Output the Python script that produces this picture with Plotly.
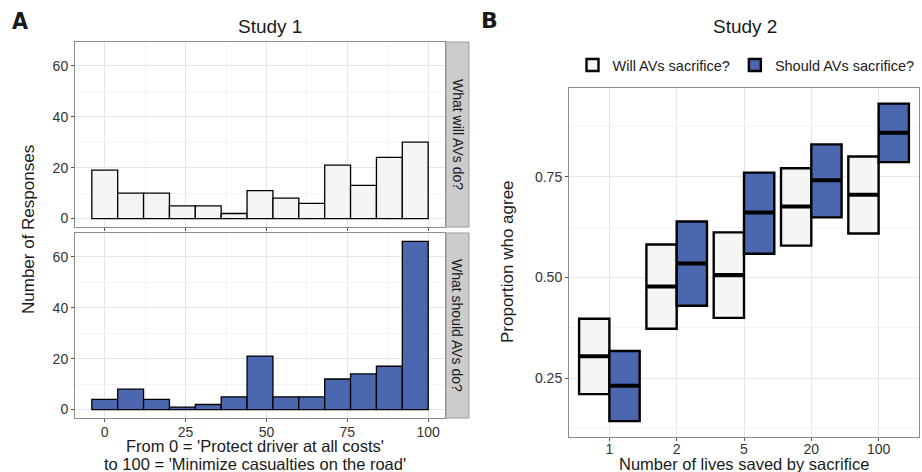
import plotly.graph_objects as go

# ---- Data ----
bin_centers = [0, 8, 16, 24, 32, 40, 48, 56, 64, 72, 80, 88, 96]
bin_width = 8
will_counts = [19, 10, 10, 5, 5, 2, 11, 8, 6, 21, 13, 24, 30]
should_counts = [4, 8, 4, 1, 2, 5, 21, 5, 5, 12, 14, 17, 66]

lives = ["1", "2", "5", "20", "100"]
will_lo = [0.211, 0.373, 0.400, 0.579, 0.609]
will_mid = [0.305, 0.478, 0.506, 0.676, 0.705]
will_hi = [0.398, 0.582, 0.612, 0.771, 0.800]
should_lo = [0.144, 0.430, 0.559, 0.649, 0.786]
should_mid = [0.232, 0.535, 0.661, 0.741, 0.859]
should_hi = [0.318, 0.639, 0.760, 0.830, 0.931]

LIGHT = "#f4f6f4"
BLUE = "#4b67b0"
FONT = "Liberation Sans, Arial, sans-serif"
W, H = 922, 472

def px(x):
    return x / W

def py(y):
    return (H - y) / H

fig = go.Figure()

fig.add_trace(go.Bar(x=bin_centers, y=will_counts, width=bin_width,
                     marker=dict(color=LIGHT, line=dict(color="black", width=1.3)),
                     xaxis="x", yaxis="y", showlegend=False))
fig.add_trace(go.Bar(x=bin_centers, y=should_counts, width=bin_width,
                     marker=dict(color=BLUE, line=dict(color="black", width=1.3)),
                     xaxis="x2", yaxis="y2", showlegend=False))

# Panel B crossbars
will_h = [h - l for h, l in zip(will_hi, will_lo)]
should_h = [h - l for h, l in zip(should_hi, should_lo)]
fig.add_trace(go.Bar(x=lives, y=will_h, base=will_lo, name="Will AVs sacrifice?",
                     offsetgroup="will", legendgroup="will",
                     marker=dict(color=LIGHT, line=dict(color="black", width=2.4)),
                     xaxis="x3", yaxis="y3"))
fig.add_trace(go.Bar(x=lives, y=should_h, base=should_lo, name="Should AVs sacrifice?",
                     offsetgroup="should", legendgroup="should",
                     marker=dict(color=BLUE, line=dict(color="black", width=2.4)),
                     xaxis="x3", yaxis="y3"))
med_t = 0.010
fig.add_trace(go.Bar(x=lives, y=[med_t] * len(lives), base=[m - med_t / 2 for m in will_mid],
                     offsetgroup="will", showlegend=False,
                     marker=dict(color="black", line=dict(width=0)),
                     xaxis="x3", yaxis="y3"))
fig.add_trace(go.Bar(x=lives, y=[med_t] * len(lives), base=[m - med_t / 2 for m in should_mid],
                     offsetgroup="should", showlegend=False,
                     marker=dict(color="black", line=dict(width=0)),
                     xaxis="x3", yaxis="y3"))

grid = "#e6e6e6"
minor_grid = "#f4f4f4"
border = "#8c8c8c"
tickfont = dict(family=FONT, size=14, color="#333333")

xA_dom = [px(75), px(445)]
common_x = dict(range=[-9.2, 105.2], tickvals=[0, 25, 50, 75, 100],
                showgrid=True, gridcolor=grid, gridwidth=1,
                minor=dict(tickvals=[12.5, 37.5, 62.5, 87.5], showgrid=True, gridcolor=minor_grid, ticks=""),
                zeroline=False, showline=True, linecolor=border, mirror=True, linewidth=1,
                ticks="outside", ticklen=3, tickcolor="#555555", tickfont=tickfont,
                ticklabelstandoff=-2)
common_y = dict(range=[-3.3, 69.3], tickvals=[0, 20, 40, 60],
                showgrid=True, gridcolor=grid,
                minor=dict(tickvals=[10, 30, 50], showgrid=True, gridcolor=minor_grid, ticks=""),
                zeroline=False, showline=True, linecolor=border, mirror=True, linewidth=1,
                ticks="outside", ticklen=3, tickcolor="#555555", tickfont=tickfont)

fig.update_layout(
    width=W, height=H, margin=dict(l=0, r=0, t=0, b=0),
    paper_bgcolor="white", plot_bgcolor="white",
    barmode="group", bargap=0.1, bargroupgap=0,
    font=dict(family=FONT, color="#222222"),
    xaxis=dict(domain=xA_dom, anchor="y", showticklabels=False, **common_x),
    yaxis=dict(domain=[py(227), py(42)], anchor="x", **common_y),
    xaxis2=dict(domain=xA_dom, anchor="y2", **common_x),
    yaxis2=dict(domain=[py(418), py(233)], anchor="x2", **common_y),
    xaxis3=dict(domain=[px(569), px(919)], anchor="y3", type="category",
                range=[-0.6, 4.6], showgrid=True, gridcolor=grid,
                showline=True, linecolor=border, mirror=True, linewidth=1,
                ticks="outside", ticklen=3, tickcolor="#555555", tickfont=tickfont,
                ticklabelstandoff=-4),
    yaxis3=dict(domain=[py(436.7), py(88.3)], anchor="x3", range=[0.1055, 0.969],
                tickvals=[0.25, 0.5, 0.75], ticktext=["0.25", "0.50", "0.75"],
                showgrid=True, gridcolor=grid,
                minor=dict(tickvals=[0.125, 0.375, 0.625, 0.875], showgrid=True, gridcolor=minor_grid, ticks=""),
                zeroline=False, showline=True, linecolor=border, mirror=True, linewidth=1,
                ticks="outside", ticklen=3, tickcolor="#555555", tickfont=tickfont),
    legend=dict(orientation="h", x=px(746), xanchor="center", y=py(65), yanchor="middle",
                font=dict(family=FONT, size=14.5, color="#222222"),
                itemwidth=30, tracegroupgap=0, bgcolor="rgba(0,0,0,0)"),
)

# Facet strips
strip_x0, strip_x1 = 446, 469
shapes = []
for y0, y1 in [(42, 227), (233, 418)]:
    shapes.append(dict(type="rect", xref="paper", yref="paper",
                       x0=px(strip_x0), x1=px(strip_x1), y0=py(y1), y1=py(y0),
                       fillcolor="#cccccc", line=dict(color="#9a9a9a", width=1), layer="above"))
fig.update_layout(shapes=shapes)

def note(text, x, y, size, angle=0, family=FONT):
    return dict(text=text, x=px(x), y=py(y), xanchor="center", yanchor="middle",
                textangle=angle, showarrow=False, xref="paper", yref="paper",
                font=dict(family=family, size=size, color="#1a1a1a"))

ann = [
    note("What will AVs do?", (strip_x0 + strip_x1) / 2, (42 + 227) / 2, 14, 90),
    note("What should AVs do?", (strip_x0 + strip_x1) / 2, (233 + 418) / 2, 14, 90),
    note("Study 1", 270, 27, 19),
    note("Study 2", 745, 27, 19),
    note("<b>A</b>", 20, 21, 23, family="DejaVu Sans Condensed, Liberation Sans Narrow, sans-serif"),
    note("<b>B</b>", 489, 21, 22, family="DejaVu Sans, sans-serif"),
    note("Number of Responses", 28, 230, 17, -90),
    note("From 0 = 'Protect driver at all costs'", 255, 446, 16.5),
    note("to 100 = 'Minimize casualties on the road'", 255, 463.5, 16.5),
    note("Proportion who agree", 507, 262, 17, -90),
    note("Number of lives saved by sacrifice", 744, 463.5, 16.5),
]
fig.update_layout(annotations=ann)

fig.write_html("out.html", config={"displayModeBar": False},
               post_script="document.body.style.margin='0px';document.body.style.overflow='hidden';")
